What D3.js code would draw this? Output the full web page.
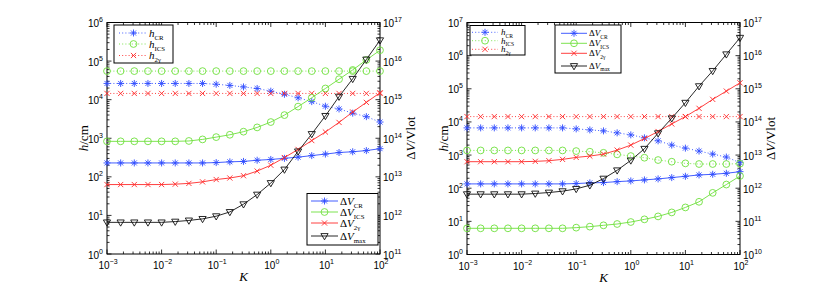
<!DOCTYPE html>
<html><head><meta charset="utf-8">
<script src="https://cdn.jsdelivr.net/npm/d3@7"></script>
<style>body{margin:0;background:#fff}svg{display:block}</style>
</head><body>
<svg id="c" width="817" height="288"></svg>
<script>
// ---------- data ----------
const K = [0.001, 0.001778, 0.003162, 0.005623, 0.01, 0.01778, 0.03162, 0.05623, 0.1, 0.1778, 0.3162, 0.5623, 1, 1.778, 3.162, 5.623, 10, 17.78, 31.62, 56.23, 100];

// left panel
const leftHCR  = [2.63e4,2.63e4,2.63e4,2.63e4,2.63e4,2.63e4,2.63e4,2.63e4,2.51e4,2.34e4,2.14e4,1.95e4,1.66e4,1.38e4,1.12e4,8.91e3,6.76e3,5.75e3,4.47e3,3.63e3,2.63e3];
const leftHICS = [5.5e4,5.5e4,5.5e4,5.5e4,5.5e4,5.5e4,5.5e4,5.5e4,5.5e4,5.5e4,5.5e4,5.5e4,5.5e4,5.5e4,5.5e4,5.5e4,5.5e4,5.5e4,5.5e4,5.5e4,5.5e4];
const leftH2G  = [1.45e4,1.45e4,1.45e4,1.45e4,1.45e4,1.45e4,1.45e4,1.45e4,1.45e4,1.45e4,1.45e4,1.45e4,1.45e4,1.45e4,1.45e4,1.45e4,1.45e4,1.45e4,1.45e4,1.45e4,1.45e4];
const leftVCR  = [2.29e13,2.29e13,2.29e13,2.29e13,2.29e13,2.29e13,2.29e13,2.29e13,2.34e13,2.45e13,2.51e13,2.69e13,2.82e13,3.02e13,3.24e13,3.55e13,3.89e13,4.27e13,4.47e13,4.79e13,5.37e13];
const leftVICS = [8.32e13,8.32e13,8.32e13,8.32e13,8.32e13,8.32e13,8.51e13,9.33e13,1.07e14,1.23e14,1.48e14,1.91e14,2.63e14,3.98e14,6.61e14,1.12e15,1.95e15,3.39e15,5.89e15,1.07e16,1.91e16];
const leftV2G  = [6.31e12,6.31e12,6.31e12,6.31e12,6.31e12,6.46e12,6.76e12,7.41e12,8.51e12,9.33e12,1.07e13,1.41e13,2.00e13,3.16e13,5.13e13,8.71e13,1.45e14,2.57e14,4.79e14,8.51e14,1.51e15];
const leftVMAX = [6.61e11,6.61e11,6.61e11,6.61e11,6.61e11,6.92e11,7.41e11,8.13e11,9.55e11,1.23e12,1.95e12,3.47e12,6.92e12,1.55e13,4.57e13,1.29e14,3.80e14,1.20e15,3.47e15,1.10e16,3.47e16];

// right panel
const rightHCR  = [6.61e3,6.61e3,6.61e3,6.61e3,6.61e3,6.61e3,6.61e3,6.61e3,6.17e3,5.75e3,5.37e3,4.68e3,4.07e3,3.31e3,2.69e3,2.00e3,1.62e3,1.32e3,1.07e3,871,589];
const rightHICS = [1.38e3,1.38e3,1.38e3,1.38e3,1.38e3,1.38e3,1.38e3,1.38e3,1.32e3,1.26e3,1.17e3,1.05e3,933,832,708,631,562,537,537,537,550];
const rightH2G  = [1.45e4,1.45e4,1.45e4,1.45e4,1.45e4,1.45e4,1.45e4,1.45e4,1.45e4,1.45e4,1.45e4,1.45e4,1.45e4,1.45e4,1.45e4,1.45e4,1.45e4,1.45e4,1.45e4,1.45e4,1.45e4];
const rightVCR  = [1.35e12,1.35e12,1.35e12,1.35e12,1.35e12,1.35e12,1.35e12,1.35e12,1.38e12,1.45e12,1.48e12,1.58e12,1.66e12,1.78e12,1.91e12,2.09e12,2.29e12,2.51e12,2.63e12,2.82e12,3.16e12];
const rightVICS = [6.17e10,6.17e10,6.17e10,6.17e10,6.17e10,6.17e10,6.17e10,6.17e10,6.46e10,6.92e10,7.59e10,8.32e10,9.55e10,1.15e11,1.41e11,1.86e11,2.63e11,3.89e11,7.24e11,1.29e12,2.34e12];
const rightV2G  = leftV2G;
const rightVMAX = leftVMAX;

const xTickExp = [-3,-2,-1,0,1,2];
const leftHExp  = [0,1,2,3,4,5,6];
const leftVExp  = [11,12,13,14,15,16,17];
const rightHExp = [0,1,2,3,4,5,6,7];
const rightVExp = [10,11,12,13,14,15,16,17];

const hNames = [["h","CR"],["h","ICS"],["h","2γ"]];
const vNames = [["V","CR"],["V","ICS"],["V","2γ"],["V","max"]];

// ---------- style ----------
const COL = {CR:"#2f4cff", ICS:"#6ee03c", G:"#ff2a2a", MAX:"#111"};
const TICKFONT = "'Liberation Sans', Arial, sans-serif";
const SERIF = "'Liberation Serif', 'DejaVu Serif', serif";

const svg = d3.select("#c");

function marker(g, type, x, y, color) {
  let p;
  if (type === "star") {
    p = `M${x-3.5},${y}H${x+3.5}M${x},${y-3.5}V${y+3.5}M${x-2.5},${y-2.5}L${x+2.5},${y+2.5}M${x-2.5},${y+2.5}L${x+2.5},${y-2.5}`;
  } else if (type === "x") {
    p = `M${x-2.6},${y-2.6}L${x+2.6},${y+2.6}M${x-2.6},${y+2.6}L${x+2.6},${y-2.6}`;
  } else if (type === "tri") {
    p = `M${x-3.6},${y-2.4}L${x+3.6},${y-2.4}L${x},${y+3.8}Z`;
  }
  if (type === "circle") {
    g.append("circle").attr("cx", x).attr("cy", y).attr("r", 3.4)
      .attr("fill", "none").attr("stroke", color).attr("stroke-width", 0.9);
  } else {
    g.append("path").attr("d", p).attr("fill", "none").attr("stroke", color).attr("stroke-width", 0.9);
  }
}

function subText(g, x, y, parts, size, anchor) {
  const t = g.append("text").attr("x", x).attr("y", y)
    .attr("font-family", SERIF).attr("font-size", size).attr("fill", "#000");
  if (anchor) t.attr("text-anchor", anchor);
  if (parts[2]) t.append("tspan").text("Δ");
  t.append("tspan").attr("font-style", "italic").text(parts[0]);
  t.append("tspan").attr("font-size", size * 0.62).attr("dy", size * 0.28).text(parts[1]);
  return t;
}

function legend(g, box, rows, lineX, markX, textX, entries, size) {
  g.append("rect").attr("x", box[0]).attr("y", box[1]).attr("width", box[2] - box[0]).attr("height", box[3] - box[1])
    .attr("fill", "#fff").attr("stroke", "#000").attr("stroke-width", 1);
  entries.forEach((e, i) => {
    const y = rows[i];
    g.append("line").attr("x1", lineX[0]).attr("x2", lineX[1]).attr("y1", y).attr("y2", y)
      .attr("stroke", e.color).attr("stroke-width", 0.9).attr("stroke-dasharray", e.dash || null);
    marker(g, e.marker, markX, y, e.color);
    subText(g, textX, y + size * 0.33, [e.name[0], e.name[1], e.delta], size);
  });
}

function supLabel(g, x, y, exp, anchor) {
  const t = g.append("text").attr("x", x).attr("y", y).attr("text-anchor", anchor)
    .attr("font-family", TICKFONT).attr("font-size", 10).attr("fill", "#000");
  t.append("tspan").text("10");
  t.append("tspan").attr("font-size", 7).attr("dy", -5).text(String(exp).replace("-", "\u2212"));
}

function panel(cfg) {
  const g = svg.append("g");
  const x = d3.scaleLog().domain([1e-3, 1e2]).range([cfg.x0, cfg.x1]);
  const yH = d3.scaleLog().domain(cfg.hDom).range([cfg.yb, cfg.yt]);
  const yV = d3.scaleLog().domain(cfg.vDom).range([cfg.yb, cfg.yt]);

  const tk = g.append("g").attr("stroke", "#000").attr("stroke-width", 0.8);
  function logTicks(dom) {
    const lo = Math.round(Math.log10(dom[0])), hi = Math.round(Math.log10(dom[1]));
    const out = [];
    for (let d = lo; d <= hi; d++) {
      out.push({v: Math.pow(10, d), major: true});
      if (d < hi) for (let m = 2; m <= 9; m++) out.push({v: m * Math.pow(10, d), major: false});
    }
    return out;
  }
  logTicks(x.domain()).forEach(t => {
    const px = x(t.v), L = t.major ? 4.5 : 2.5;
    tk.append("line").attr("x1", px).attr("x2", px).attr("y1", cfg.yb).attr("y2", cfg.yb - L);
    tk.append("line").attr("x1", px).attr("x2", px).attr("y1", cfg.yt).attr("y2", cfg.yt + L);
  });
  logTicks(yH.domain()).forEach(t => {
    const py = yH(t.v), L = t.major ? 4.5 : 2.5;
    tk.append("line").attr("x1", cfg.x0).attr("x2", cfg.x0 + L).attr("y1", py).attr("y2", py);
  });
  logTicks(yV.domain()).forEach(t => {
    const py = yV(t.v), L = t.major ? 4.5 : 2.5;
    tk.append("line").attr("x1", cfg.x1).attr("x2", cfg.x1 - L).attr("y1", py).attr("y2", py);
  });
  g.append("rect").attr("x", cfg.x0).attr("y", cfg.yt).attr("width", cfg.x1 - cfg.x0).attr("height", cfg.yb - cfg.yt)
    .attr("fill", "none").attr("stroke", "#000").attr("stroke-width", 1);

  xTickExp.forEach(e => supLabel(g, x(Math.pow(10, e)) + 1, cfg.yb + 15, e, "middle"));
  cfg.hExp.forEach(e => supLabel(g, cfg.x0 - 4, yH(Math.pow(10, e)) + 4.5, e, "end"));
  cfg.vExp.forEach(e => supLabel(g, cfg.x1 + 3, yV(Math.pow(10, e)) + 4.5, e, "start"));

  const hl = g.append("text").attr("transform", `translate(${cfg.x0 - 19.5},${(cfg.yt + cfg.yb) / 2}) rotate(-90)`)
    .attr("text-anchor", "middle").attr("font-family", SERIF).attr("font-size", 13);
  hl.append("tspan").attr("font-style", "italic").text("h");
  hl.append("tspan").text("/cm");
  const vl = g.append("text").attr("transform", `translate(${cfg.x1 + 35},${(cfg.yt + cfg.yb) / 2}) rotate(-90)`)
    .attr("text-anchor", "middle").attr("font-family", SERIF).attr("font-size", 13);
  vl.append("tspan").text("Δ");
  vl.append("tspan").attr("font-style", "italic").text("V");
  vl.append("tspan").text("/Vlot");
  g.append("text").attr("x", (cfg.x0 + cfg.x1) / 2).attr("y", cfg.yb + 27).attr("text-anchor", "middle")
    .attr("font-family", SERIF).attr("font-style", "italic").attr("font-size", 13).text("K");

  const line = yS => d3.line().x((d, i) => x(K[i])).y(d => yS(d));
  const series = [
    {d: cfg.hCR, y: yH, c: COL.CR, m: "star", dash: "1,2.2"},
    {d: cfg.hICS, y: yH, c: COL.ICS, m: "circle", dash: "1,2.2"},
    {d: cfg.h2G, y: yH, c: COL.G, m: "x", dash: "1,2.2"},
    {d: cfg.vCR, y: yV, c: COL.CR, m: "star"},
    {d: cfg.vICS, y: yV, c: COL.ICS, m: "circle"},
    {d: cfg.v2G, y: yV, c: COL.G, m: "x"},
    {d: cfg.vMAX, y: yV, c: COL.MAX, m: "tri"}
  ];
  series.forEach(s => {
    g.append("path").datum(s.d).attr("d", line(s.y)).attr("fill", "none")
      .attr("stroke", s.c).attr("stroke-width", 0.9).attr("stroke-dasharray", s.dash || null);
    s.d.forEach((v, i) => marker(g, s.m, x(K[i]), s.y(v), s.c));
  });

  const hEntries = [
    {name: hNames[0], color: COL.CR, marker: "star", dash: "1,2.2"},
    {name: hNames[1], color: COL.ICS, marker: "circle", dash: "1,2.2"},
    {name: hNames[2], color: COL.G, marker: "x", dash: "1,2.2"}
  ];
  const vEntries = [
    {name: vNames[0], color: COL.CR, marker: "star", delta: true},
    {name: vNames[1], color: COL.ICS, marker: "circle", delta: true},
    {name: vNames[2], color: COL.G, marker: "x", delta: true},
    {name: vNames[3], color: COL.MAX, marker: "tri", delta: true}
  ];
  const L1 = cfg.hLeg, L2 = cfg.vLeg;
  legend(g, L1.box, L1.rows, L1.line, L1.mark, L1.text, hEntries, L1.size);
  legend(g, L2.box, L2.rows, L2.line, L2.mark, L2.text, vEntries, L2.size);
}

panel({
  x0: 107, x1: 380, yt: 22.5, yb: 254,
  hDom: [1, 1e6], vDom: [1e11, 1e17], hExp: leftHExp, vExp: leftVExp,
  hCR: leftHCR, hICS: leftHICS, h2G: leftH2G, vCR: leftVCR, vICS: leftVICS, v2G: leftV2G, vMAX: leftVMAX,
  hLeg: {box: [114, 25, 173, 63], rows: [33, 44, 55.5], line: [119, 147], mark: 133.5, text: 149, size: 11},
  vLeg: {box: [307, 193.5, 378, 245], rows: [201, 212, 223, 236], line: [311, 338], mark: 324.5, text: 340, size: 11}
});
panel({
  x0: 467, x1: 740, yt: 22.5, yb: 254.5,
  hDom: [1, 1e7], vDom: [1e10, 1e17], hExp: rightHExp, vExp: rightVExp,
  hCR: rightHCR, hICS: rightHICS, h2G: rightH2G, vCR: rightVCR, vICS: rightVICS, v2G: rightV2G, vMAX: rightVMAX,
  hLeg: {box: [470, 25.5, 525, 55], rows: [32.3, 40.7, 49.3], line: [472, 498], mark: 485, text: 501, size: 9},
  vLeg: {box: [555, 25, 621, 73], rows: [33.3, 43.3, 53.3, 66], line: [561, 587], mark: 574, text: 589, size: 9}
});
</script>
</body></html>
